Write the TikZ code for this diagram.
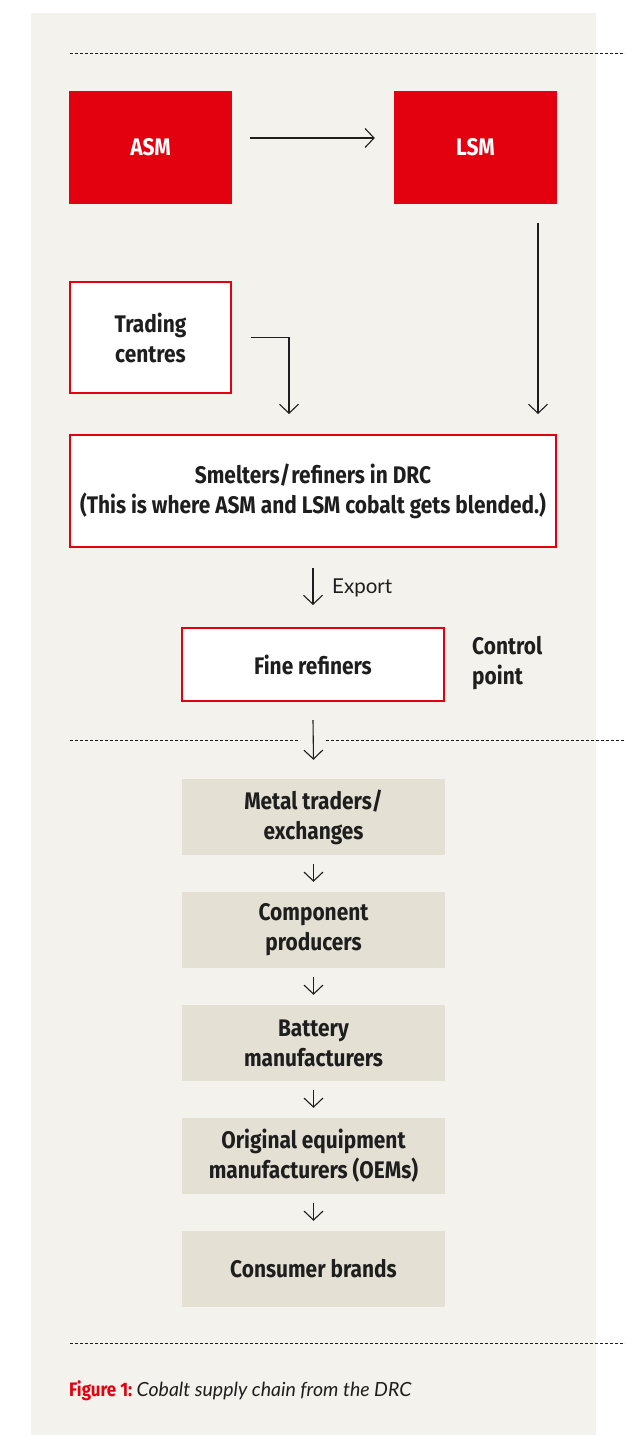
\documentclass[tikz,border=0pt]{standalone}
\usepackage{fontspec}
\usetikzlibrary{arrows.meta}
\newfontfamily\condf{Fira Sans}[FakeStretch=0.87]
\newfontfamily\capf{Lato}
\definecolor{cred}{HTML}{E3000F}
\definecolor{bgg}{HTML}{F3F2ED}
\definecolor{beige}{HTML}{E4E0D3}
\definecolor{ink}{HTML}{1E1E1E}
\tikzset{
  redbox/.style={fill=cred, text=white, minimum width=163pt, minimum height=113pt, inner sep=0pt, font=\condf\bfseries\fontsize{24}{30}\selectfont, align=center},
  framebox/.style={draw=cred, line width=2pt, fill=white, inner sep=0pt, font=\condf\bfseries\fontsize{24}{30}\selectfont, align=center, text=ink},
  beigebox/.style={fill=beige, minimum width=263pt, minimum height=76pt, inner sep=0pt, font=\condf\bfseries\fontsize{24}{30}\selectfont, align=center, text=ink},
  arr/.style={draw=ink, line width=1.1pt, -{Straight Barb[length=9pt,width=19pt,line width=1.1pt]}},
  sep/.style={draw=ink, line width=0.9pt, dash pattern=on 3pt off 2pt},
}
\begin{document}
\begin{tikzpicture}[x=1pt,y=-1pt]
\useasboundingbox (0,0) rectangle (625,1435);
\fill[bgg] (31,13) rectangle (596,1435);
% separators
\coordinate (s1a) at (70,53); \coordinate (s1b) at (625,53);
\draw[sep] (s1a) -- (s1b);
\coordinate (s2a) at (70,740); \coordinate (s2b) at (300,740);
\coordinate (s2c) at (326,740); \coordinate (s2d) at (625,740);
\draw[sep] (s2a) -- (s2b);
\draw[sep] (s2c) -- (s2d);
\coordinate (s3a) at (70,1343); \coordinate (s3b) at (625,1343);
\draw[sep] (s3a) -- (s3b);
% nodes
\node[redbox] (asm) at (150.5,147.5) {ASM};
\node[redbox] (lsm) at (475.5,147.5) {LSM};
\node[framebox, minimum width=161pt, minimum height=111pt] (trade) at (150.5,337.5) {Trading\\centres};
\node[framebox, minimum width=486pt, minimum height=112pt] (smelt) at (313,491) {Smelters/\kern1pt refiners in DRC\\(This is where ASM and LSM cobalt gets blended.)};
\node[framebox, minimum width=262pt, minimum height=73pt] (fine) at (313,664.5) {Fine refiners};
\node[anchor=west, inner sep=0pt, align=left, text=ink, font=\condf\bfseries\fontsize{24}{30}\selectfont] (ctrl) at (472,663) {Control\\point};
\node[beigebox] (b1) at (313.5,817) {Metal traders/\\exchanges};
\node[beigebox] (b2) at (313.5,930) {Component\\producers};
\node[beigebox] (b3) at (313.5,1043) {Battery\\manufacturers};
\node[beigebox] (b4) at (313.5,1156) {Original equipment\\manufacturers (OEMs)};
\node[beigebox] (b5) at (313.5,1269) {Consumer brands};
% connectors
\draw[arr] ([xshift=18pt,yshift=9.5pt]asm.east) -- ([xshift=-19pt,yshift=9.5pt]lsm.west);
\draw[arr] ([xshift=62.5pt,yshift=-19pt]lsm.south) -- ([xshift=225pt,yshift=20pt]smelt.north);
\draw[arr] ([xshift=19pt]trade.east) -| ([xshift=-24pt,yshift=20pt]smelt.north);
\draw[arr] ([yshift=-20pt]smelt.south) -- ([yshift=22pt]fine.north);
\node[anchor=west, inner sep=0pt, text=ink, font=\capf\fontsize{20.5}{24}\selectfont] (exp) at (332,588) {Export};
\draw[arr] ([yshift=-18pt]fine.south) -- ([yshift=19pt]b1.north);
\draw[arr] ([yshift=-9pt]b1.south) -- ([yshift=10pt]b2.north);
\draw[arr] ([yshift=-9pt]b2.south) -- ([yshift=10pt]b3.north);
\draw[arr] ([yshift=-9pt]b3.south) -- ([yshift=10pt]b4.north);
\draw[arr] ([yshift=-9pt]b4.south) -- ([yshift=10pt]b5.north);
% caption
\node[anchor=base west, inner sep=0pt] (cap) at (69,1396) {{\condf\bfseries\fontsize{19.5}{22}\selectfont\color{cred}Figure 1:} {\capf\itshape\fontsize{19.5}{22}\selectfont\color{ink}Cobalt supply chain from the DRC}};
\end{tikzpicture}
\end{document}
